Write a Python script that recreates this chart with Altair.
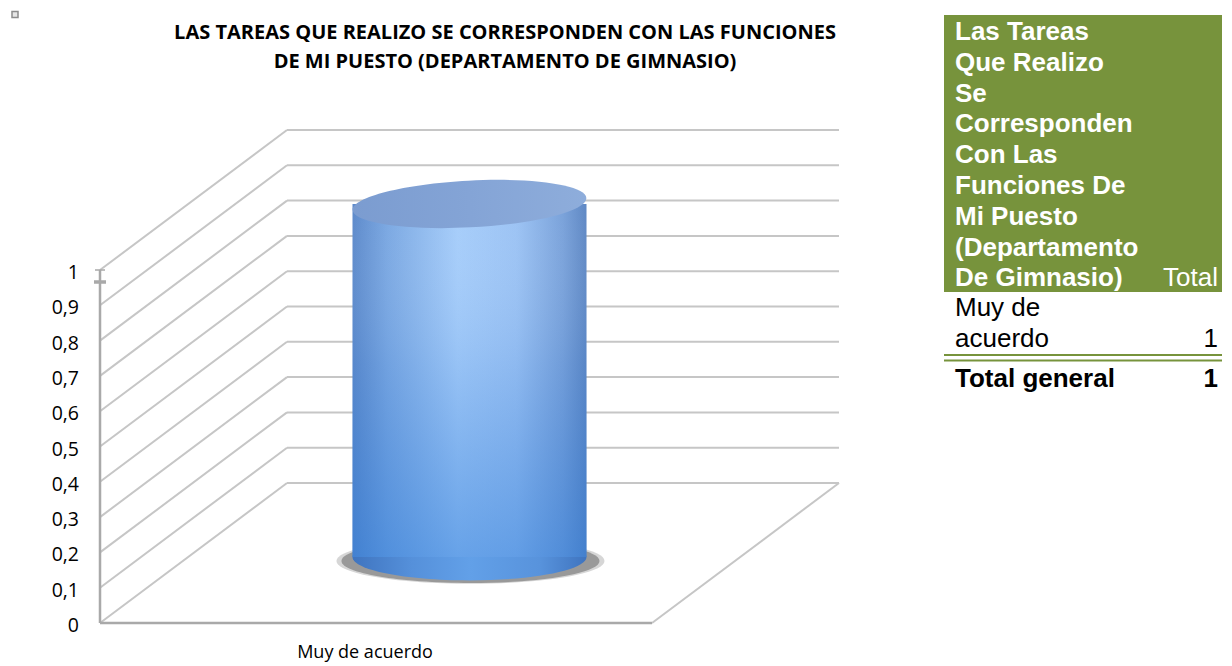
import altair as alt
import pandas as pd

# ---------------- data ----------------
categories = ["Muy de acuerdo"]
values = [1]
tick_values = [0, 0.1, 0.2, 0.3, 0.4, 0.5, 0.6, 0.7, 0.8, 0.9, 1.0]
title_lines = [
    "LAS TAREAS QUE REALIZO SE CORRESPONDEN CON LAS FUNCIONES",
    "DE MI PUESTO (DEPARTAMENTO DE GIMNASIO)",
]
table_header_lines = [
    "Las Tareas", "Que Realizo", "Se", "Corresponden", "Con Las",
    "Funciones De", "Mi Puesto", "(Departamento", "De Gimnasio)",
]
table_value_header = "Total"
table_row_label_lines = ["Muy de", "acuerdo"]
table_row_value = 1
table_total_label = "Total general"
table_total_value = 1

# ---------------- layout ----------------
W, H = 1124, 658
PAD_L = 92
ORIGIN_X = 8 + PAD_L
ORIGIN_Y = 8
FRONT_W = 552
DEPTH_X = 187
DEPTH_Y = 140
K = 353.0
ZERO_Y = 623
DZ = DEPTH_Y / K
BAR_R = 117
ELL = "M-1,0A1,0.2,0,1,0,1,0A1,0.2,0,1,0,-1,0Z"
ELL_FLAT = "M-1,0A1,0.17,0,1,0,1,0A1,0.17,0,1,0,-1,0Z"


def vy(page_y):
    return (ZERO_Y - page_y) / K


def px(page_x):
    return page_x - ORIGIN_X


xscale = alt.Scale(domain=[0, W], nice=False, zero=False)
yscale = alt.Scale(domain=[vy(ORIGIN_Y + H), vy(ORIGIN_Y)], nice=False, zero=False)


def X(f):
    return alt.X(f, type="quantitative", scale=xscale, axis=None)


def X2(f):
    return alt.X2(f)


def Y(f):
    return alt.Y(f, type="quantitative", scale=yscale, axis=None)


# ---------------- grid / walls ----------------
grid_rows = []
for t in tick_values:
    grid_rows.append(dict(x=0, y=t, x2=DEPTH_X, y2=t + DZ))
    grid_rows.append(dict(x=DEPTH_X, y=t + DZ, x2=DEPTH_X + FRONT_W, y2=t + DZ))
grid_rows.append(dict(x=FRONT_W, y=0, x2=FRONT_W + DEPTH_X, y2=DZ))
grid_df = pd.DataFrame(grid_rows)

grid = alt.Chart(grid_df).mark_rule(color="#c6c6c6", strokeWidth=2).encode(
    x=X("x"), y=Y("y"), x2=X2("x2"), y2=alt.Y2("y2"),
)

vmax = max(tick_values)
frame_df = pd.DataFrame([
    dict(x=0, y=0, x2=0, y2=vmax),
    dict(x=0, y=0, x2=FRONT_W, y2=0),
])
frame = alt.Chart(frame_df).mark_rule(color="#a9a9a9", strokeWidth=2.5).encode(
    x=X("x"), y=Y("y"), x2=X2("x2"), y2=alt.Y2("y2")
)

tick_df = pd.DataFrame([
    dict(x=-5, x2=5, y=vmax, w=1.5),
    dict(x=-6, x2=6, y=vmax - 12 / K, w=3.5),
])
topticks = alt.Chart(tick_df).mark_rule(color="#a9a9a9").encode(
    x=X("x"), x2=X2("x2"), y=Y("y"),
    strokeWidth=alt.StrokeWidth("w:Q", scale=None, legend=None),
)

# y-axis tick labels
ylab_df = pd.DataFrame({"t": tick_values})
ylab_df["label"] = [("%g" % t).replace(".", ",") for t in tick_values]
ylab_df["x"] = -21
ylabels = alt.Chart(ylab_df).mark_text(
    font="Open Sans", fontSize=19.5, color="#000000", align="right", baseline="middle", dy=3
).encode(x=X("x"), y=Y("t"), text="label:N")

# ---------------- cylinder ----------------
n = len(categories)
bar_df = pd.DataFrame({
    "cat": categories,
    "value": values,
})
LIFT = -4 / K
bar_df["xc"] = [FRONT_W * (i + 0.5) / n + DEPTH_X / 2 for i in range(n)]
bar_df["x1"] = bar_df["xc"] - BAR_R
bar_df["x2"] = bar_df["xc"] + BAR_R
bar_df["yb"] = DZ / 2 + LIFT
bar_df["yt"] = bar_df["value"] + DZ / 2 + LIFT
bar_df["xs"] = bar_df["xc"] + 1
bar_df["ys"] = bar_df["yb"] - 4 / K

shadow_outer = alt.Chart(bar_df).mark_point(
    shape=ELL_FLAT, filled=True, fill="#8a8a8a", opacity=0.35, strokeWidth=0,
    size=(2 * BAR_R + 34) ** 2,
).encode(x=X("xs"), y=Y("ys"))
shadow_inner = alt.Chart(bar_df).mark_point(
    shape=ELL_FLAT, filled=True, fill="#707070", opacity=0.6, strokeWidth=0,
    size=(2 * BAR_R + 24) ** 2,
).encode(x=X("xs"), y=Y("ys"))

bottom_grad = alt.Gradient(
    gradient="linear", x1=0, x2=1, y1=0, y2=0,
    stops=[
        alt.GradientStop(color="#3f74bf", offset=0),
        alt.GradientStop(color="#5590da", offset=0.25),
        alt.GradientStop(color="#62a0e8", offset=0.5),
        alt.GradientStop(color="#5893dc", offset=0.8),
        alt.GradientStop(color="#3f74bf", offset=1),
    ],
)
bottom = alt.Chart(bar_df).mark_point(
    shape=ELL, filled=True, fill=bottom_grad, opacity=1, strokeWidth=0,
    size=(2 * BAR_R) ** 2,
).encode(x=X("xc"), y=Y("yb"))

body_grad = alt.Gradient(
    gradient="linear", x1=0, x2=1, y1=0, y2=0,
    stops=[
        alt.GradientStop(color="#5d8acb", offset=0),
        alt.GradientStop(color="#7ba8e2", offset=0.15),
        alt.GradientStop(color="#a6cdfa", offset=0.45),
        alt.GradientStop(color="#9cc3f4", offset=0.7),
        alt.GradientStop(color="#7aa2da", offset=0.9),
        alt.GradientStop(color="#5f88c4", offset=1),
    ],
)
body = alt.Chart(bar_df).mark_rect(fill=body_grad, opacity=1, strokeWidth=0).encode(
    x=X("x1"), x2=X2("x2"), y=Y("yb"), y2=alt.Y2("yt")
)
shade_grad = alt.Gradient(
    gradient="linear", x1=0, x2=0, y1=0, y2=1,
    stops=[
        alt.GradientStop(color="rgba(255,255,255,0)", offset=0),
        alt.GradientStop(color="rgba(40,115,210,0.12)", offset=0.45),
        alt.GradientStop(color="rgba(40,120,215,0.5)", offset=1),
    ],
)
body_shade = alt.Chart(bar_df).mark_rect(fill=shade_grad, opacity=1, strokeWidth=0).encode(
    x=X("x1"), x2=X2("x2"), y=Y("yb"), y2=alt.Y2("yt")
)

top_grad = alt.Gradient(
    gradient="linear", x1=0, x2=1, y1=0, y2=0,
    stops=[
        alt.GradientStop(color="#7b9cd0", offset=0),
        alt.GradientStop(color="#84a4d6", offset=0.5),
        alt.GradientStop(color="#8eaddb", offset=1),
    ],
)
top = alt.Chart(bar_df).mark_point(
    shape=ELL, filled=True, fill=top_grad, opacity=1, strokeWidth=0,
    size=(2 * BAR_R) ** 2, angle=357,
).encode(x=X("xc"), y=Y("yt"))

# ---------------- category label ----------------
lab_df = pd.DataFrame({"cat": categories})
lab_df["x"] = [FRONT_W * (i + 0.5) / n - 11 for i in range(n)]
lab_df["y"] = vy(653)
cat_labels = alt.Chart(lab_df).mark_text(
    font="Open Sans", fontSize=18, color="#000000", align="center", baseline="middle"
).encode(x=X("x"), y=Y("y"), text="cat:N")

# ---------------- title ----------------
title_df = pd.DataFrame({"text": title_lines})
title_df["x"] = px(505)
title_df["y"] = [vy(33), vy(62)]
title = alt.Chart(title_df).mark_text(
    font="Open Sans", fontSize=20, fontWeight="bold", color="#000000",
    align="center", baseline="middle",
).encode(x=X("x"), y=Y("y"), text="text:N")

# ---------------- pivot table ----------------
green = "#77933c"
FS = 26
TBL_L, TBL_R = px(944), px(1222)
TXT_L, TXT_R = px(955), px(1218)
hdr_rect = alt.Chart(pd.DataFrame([dict(x=TBL_L, x2=TBL_R, y=vy(15), y2=vy(292))])).mark_rect(
    color=green
).encode(x=X("x"), x2=X2("x2"), y=Y("y"), y2=alt.Y2("y2"))

hdr_df = pd.DataFrame({"text": table_header_lines})
hdr_df["x"] = TXT_L
hdr_df["y"] = [vy(40 + 30.8 * i) for i in range(len(table_header_lines))]
hdr_text = alt.Chart(hdr_df).mark_text(
    font="Liberation Sans", fontSize=FS, fontWeight="bold", color="#ffffff",
    align="left", baseline="alphabetic",
).encode(x=X("x"), y=Y("y"), text="text:N")

tot_hdr = alt.Chart(pd.DataFrame([dict(text=table_value_header, x=TXT_R,
                                       y=vy(40 + 30.8 * (len(table_header_lines) - 1)))])).mark_text(
    font="Liberation Sans", fontSize=FS, color="#ffffff", align="right", baseline="alphabetic"
).encode(x=X("x"), y=Y("y"), text="text:N")

row_df = pd.DataFrame({"text": table_row_label_lines})
row_df["x"] = TXT_L
row_df["y"] = [vy(316), vy(347)]
row_text = alt.Chart(row_df).mark_text(
    font="Liberation Sans", fontSize=FS, color="#000000", align="left", baseline="alphabetic"
).encode(x=X("x"), y=Y("y"), text="text:N")

row_val = alt.Chart(pd.DataFrame([dict(v=table_row_value, x=TXT_R, y=vy(347))])).mark_text(
    font="Liberation Sans", fontSize=FS, color="#000000", align="right", baseline="alphabetic"
).encode(x=X("x"), y=Y("y"), text="v:N")

dbl_df = pd.DataFrame([dict(x=TBL_L, x2=TBL_R, y=vy(355)), dict(x=TBL_L, x2=TBL_R, y=vy(360.5))])
dbl = alt.Chart(dbl_df).mark_rule(color=green, strokeWidth=2).encode(
    x=X("x"), x2=X2("x2"), y=Y("y")
)

tot_df = pd.DataFrame([dict(text=table_total_label, x=TXT_L, y=vy(387))])
tot_text = alt.Chart(tot_df).mark_text(
    font="Liberation Sans", fontSize=FS, fontWeight="bold", color="#000000",
    align="left", baseline="alphabetic",
).encode(x=X("x"), y=Y("y"), text="text:N")
tot_val = alt.Chart(pd.DataFrame([dict(v=table_total_value, x=TXT_R, y=vy(387))])).mark_text(
    font="Liberation Sans", fontSize=FS, fontWeight="bold", color="#000000",
    align="right", baseline="alphabetic",
).encode(x=X("x"), y=Y("y"), text="v:N")

# ---------------- small icon ----------------
icon = alt.Chart(pd.DataFrame([dict(x=px(15), y=vy(14.5))])).mark_point(
    shape="square", filled=True, fill="#e6e6e6", stroke="#8c8c8c", strokeWidth=1.5,
    opacity=1, size=36,
).encode(x=X("x"), y=Y("y"))

chart = alt.layer(
    grid, frame, topticks, ylabels,
    shadow_outer, shadow_inner, bottom, body, body_shade, top,
    cat_labels, title,
    hdr_rect, hdr_text, tot_hdr, row_text, row_val, dbl, tot_text, tot_val,
    icon,
).properties(
    width=W, height=H,
    padding={"left": PAD_L, "top": 0, "right": 0, "bottom": 0},
    autosize=alt.AutoSizeParams(type="none"),
    background="#ffffff",
).configure_view(stroke="transparent", strokeWidth=0)

chart.save("out.html", embed_options={"renderer": "svg", "actions": False})
